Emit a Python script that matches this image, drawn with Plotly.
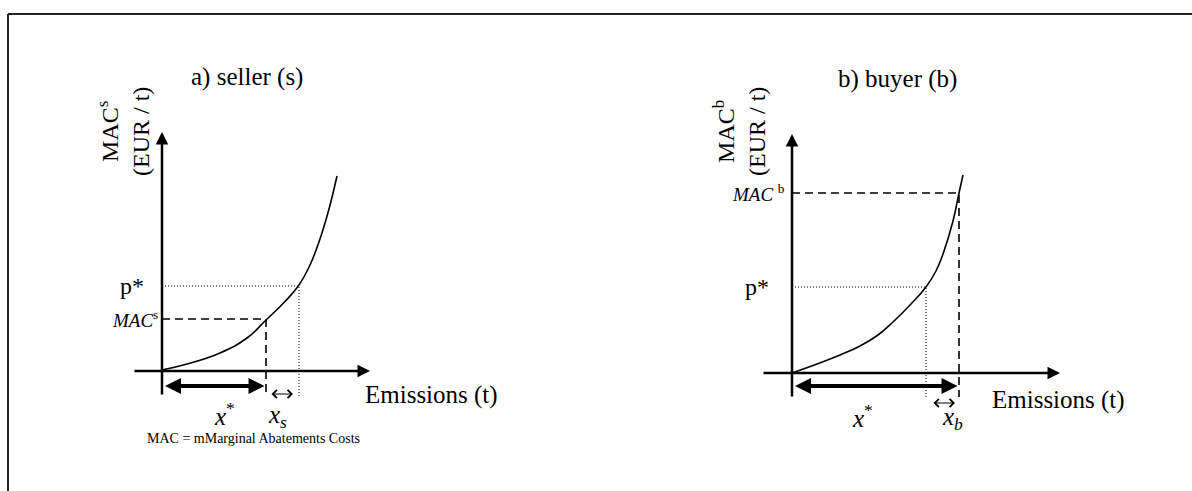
import plotly.graph_objects as go

FONT = "Liberation Serif"
W, H = 1192, 491

# ---------------- data (conceptual units) ----------------
# a) seller
seller_curve_x = [0.0, 2.5, 5.8, 8.5, 10.4, 12.2, 13.7, 14.8, 15.8, 16.7, 17.5]
seller_curve_y = [0.1, 0.7, 1.8, 3.3, 5.1, 6.85, 8.6, 10.6, 13.2, 16.2, 19.5]
seller_p_star = 8.5      # market price level
seller_mac = 5.2         # MAC^s level
seller_x_star = 10.4     # emissions at MAC^s
seller_x_p = 13.7        # emissions at p*

# b) buyer
buyer_curve_x = [0.0, 2.5, 4.8, 6.8, 8.6, 10.1, 11.9, 13.4, 14.4, 15.1, 16.1, 16.7, 17.1]
buyer_curve_y = [0.0, 0.9, 1.8, 2.7, 3.8, 5.1, 6.9, 8.6, 10.2, 11.9, 15.2, 18.0, 19.8]
buyer_p_star = 8.6
buyer_mac = 18.0
buyer_x_star = 16.7
buyer_x_p = 13.4

# text
titles = ["a) seller (s)", "b) buyer (b)"]
y_titles = ["MAC<sup>s</sup><br>(EUR / t)", "MAC<sup>b</sup><br>(EUR / t)"]
x_title = "Emissions (t)"
mac_labels = ["<i>MAC</i><sup>s</sup>", "<i>MAC </i><sup>b</sup>"]
footnote = "MAC = mMarginal Abatements Costs"

# ---------------- layout helpers ----------------
def dom_x(origin, rng, scale=10):
    return [(origin + scale * rng[0]) / W, (origin + scale * rng[1]) / W]

def dom_y(origin, rng, scale=10):
    return [1 - (origin - scale * rng[0]) / H, 1 - (origin - scale * rng[1]) / H]

XR1, YR1 = [-8, 35], [-8, 30]
XR2, YR2 = [-8, 36], [-8, 30]

fig = go.Figure()

panels = [
    dict(xa="x", ya="y", cx=seller_curve_x, cy=seller_curve_y, p=seller_p_star,
         mac=seller_mac, xs=seller_x_star, xp=seller_x_p, sub="s",
         xaxis_end=20.8, xaxis_start=-2.9),
    dict(xa="x2", ya="y2", cx=buyer_curve_x, cy=buyer_curve_y, p=buyer_p_star,
         mac=buyer_mac, xs=buyer_x_star, xp=buyer_x_p, sub="b",
         xaxis_end=26.8, xaxis_start=-3.0),
]

annotations = []
below = -2.4  # how far the verticals reach under the x-axis

for i, pn in enumerate(panels):
    xa, ya = pn["xa"], pn["ya"]
    # MAC curve
    fig.add_trace(go.Scatter(x=pn["cx"], y=pn["cy"], mode="lines", xaxis=xa, yaxis=ya,
                             line=dict(color="black", width=1.6, shape="spline", smoothing=1.3),
                             hoverinfo="skip", showlegend=False))
    # dotted p* lines
    fig.add_trace(go.Scatter(x=[0, pn["xp"], pn["xp"]], y=[pn["p"], pn["p"], below - 0.2],
                             mode="lines", xaxis=xa, yaxis=ya,
                             line=dict(color="black", width=1, dash="1px,2px"),
                             hoverinfo="skip", showlegend=False))
    # dashed MAC lines
    fig.add_trace(go.Scatter(x=[0, pn["xs"], pn["xs"]], y=[pn["mac"], pn["mac"], below],
                             mode="lines", xaxis=xa, yaxis=ya,
                             line=dict(color="black", width=1.6, dash="8px,5px"),
                             hoverinfo="skip", showlegend=False))

    common = dict(xref=xa, yref=ya, axref=xa, ayref=ya, text="", showarrow=True,
                  arrowcolor="black", standoff=0, startstandoff=0)
    # y axis arrow
    annotations.append(dict(common, x=0, y=23.9, ax=0, ay=-2.5,
                            arrowhead=2, arrowsize=1, arrowwidth=2.5))
    # x axis arrow
    annotations.append(dict(common, x=pn["xaxis_end"], y=0, ax=pn["xaxis_start"], ay=0,
                            arrowhead=2, arrowsize=1, arrowwidth=2.5))
    # x* thick double arrow
    ystar = -1.5 if i == 0 else -1.3
    annotations.append(dict(common, x=pn["xs"] - 0.15, y=ystar, ax=0.15, ay=ystar,
                            arrowhead=2, startarrowhead=2, arrowside="end+start",
                            arrowsize=0.8, startarrowsize=0.8, arrowwidth=4))
    # small x_s / x_b arrow
    ysm = -2.3 if i == 0 else -3.0
    x0s, x1s = (10.8, 13.1) if i == 0 else (14.0, 16.3)
    annotations.append(dict(common, x=x1s, y=ysm, ax=x0s, ay=ysm,
                            arrowhead=4, startarrowhead=4, arrowside="end+start",
                            arrowsize=1.6, startarrowsize=1.6, arrowwidth=1))

    tf = dict(family=FONT, color="black")
    # title
    annotations.append(dict(xref=xa, yref=ya, x=8.45 if i == 0 else 10.5, y=29.4,
                            text=titles[i], showarrow=False, font=dict(tf, size=25)))
    # y title (rotated)
    annotations.append(dict(xref=xa, yref=ya, x=-3.9 if i == 0 else -5.3,
                            y=23.9 if i == 0 else 24.1,
                            text=y_titles[i], textangle=-90, showarrow=False,
                            font=dict(tf, size=24)))
    # p*
    annotations.append(dict(xref=xa, yref=ya, x=-1.6 if i == 0 else -2.1, y=pn["p"],
                            xanchor="right", text="p*", showarrow=False,
                            font=dict(tf, size=24)))
    # MAC level label
    annotations.append(dict(xref=xa, yref=ya, x=-0.2 if i == 0 else -0.5, y=pn["mac"],
                            xanchor="right", text=mac_labels[i], showarrow=False,
                            font=dict(tf, size=19)))
    # x*
    annotations.append(dict(xref=xa, yref=ya, x=6.2 if i == 0 else 7.0, y=-4.3,
                            text="<i>x</i><sup>*</sup>", showarrow=False,
                            font=dict(tf, size=25)))
    # x_s / x_b
    annotations.append(dict(xref=xa, yref=ya, x=11.5 if i == 0 else 16.0, y=-4.5,
                            text=f"<i>x<sub>{pn['sub']}</sub></i>", showarrow=False,
                            font=dict(tf, size=25)))
    # x title
    annotations.append(dict(xref=xa, yref=ya, x=20.1 if i == 0 else 19.8,
                            y=-2.4 if i == 0 else -2.7, xanchor="left",
                            text=x_title, showarrow=False, font=dict(tf, size=25)))

# footnote
annotations.append(dict(xref="x", yref="y", x=-1.7, y=-6.7, xanchor="left",
                        text=footnote, showarrow=False,
                        font=dict(family=FONT, color="black", size=14)))

axis_off = dict(visible=False, fixedrange=True)
fig.update_layout(
    width=W, height=H,
    margin=dict(l=0, r=0, t=0, b=0),
    paper_bgcolor="white", plot_bgcolor="rgba(0,0,0,0)",
    showlegend=False,
    xaxis=dict(axis_off, range=XR1, domain=dom_x(162, XR1), anchor="y"),
    yaxis=dict(axis_off, range=YR1, domain=dom_y(371, YR1), anchor="x"),
    xaxis2=dict(axis_off, range=XR2, domain=dom_x(792, XR2), anchor="y2"),
    yaxis2=dict(axis_off, range=YR2, domain=dom_y(373, YR2), anchor="x2"),
    annotations=annotations,
    shapes=[
        dict(type="line", xref="paper", yref="paper", x0=8 / W, x1=1,
             y0=1 - 14 / H, y1=1 - 14 / H, line=dict(color="#222", width=2)),
        dict(type="line", xref="paper", yref="paper", x0=8 / W, x1=8 / W,
             y0=0, y1=1 - 14 / H, line=dict(color="#222", width=2)),
    ],
)

fig.write_html("out.html", config={"displayModeBar": False},
               post_script="document.body.style.margin='0';document.body.style.overflow='hidden';")
